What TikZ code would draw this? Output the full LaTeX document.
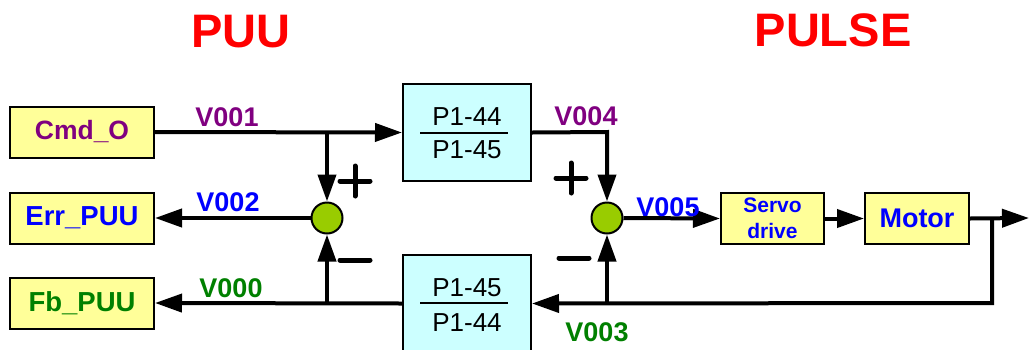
\documentclass[tikz,border=0pt]{standalone}
\usepackage{fontspec}
\setmainfont{Liberation Sans}
\usetikzlibrary{arrows.meta}
\definecolor{boxy}{HTML}{FFFF99}
\definecolor{boxc}{HTML}{CCFFFF}
\definecolor{sumg}{HTML}{99CC00}
\definecolor{vpur}{HTML}{800080}
\definecolor{vblue}{HTML}{0000FF}
\definecolor{vgreen}{HTML}{008000}
\begin{document}
\begin{tikzpicture}[x=1pt,y=-1pt,
  ybox/.style={draw=black, line width=2pt, fill=boxy, minimum width=144pt, minimum height=51pt, inner sep=0pt, font=\fontsize{27.5}{29}\selectfont\bfseries},
  cbox/.style={draw=black, line width=2pt, fill=boxc, minimum width=128pt, minimum height=97pt, inner sep=0pt},
  ptext/.style={inner sep=0pt, font=\fontsize{26}{28}\selectfont},
  sumnode/.style={circle, draw=black, line width=2pt, fill=sumg, minimum size=31pt, inner sep=0pt},
  conn/.style={line width=4pt},
  arr/.style={conn, -{Triangle[length=27pt,width=18pt]}},
  lab/.style={inner sep=0pt, font=\fontsize{27}{29}\selectfont\bfseries},
  ttl/.style={inner sep=0pt, font=\fontsize{47}{50}\selectfont\bfseries, text=red},
  sign/.style={line width=5pt, line cap=round}
]
\useasboundingbox (0,0) rectangle (1029,349);

% titles
\node[ttl] (tpuu) at (241,32) {PUU};
\node[ttl] (tpulse) at (833,30) {PULSE};

% left boxes
\node[ybox, text=vpur, font=\fontsize{26.5}{28}\selectfont\bfseries] (cmd) at (82,132) {Cmd\_O};
\node[ybox, text=vblue] (err) at (82,218) {Err\_PUU};
\node[ybox, text=vgreen] (fb) at (82,303) {Fb\_PUU};

% gain boxes
\node[cbox] (p1) at (467,132.5) {};
\node[ptext] (p1a) at (467,117) {P1-44};
\node[ptext] (p1b) at (467,150) {P1-45};
\draw[line width=2pt] (420,132.5) -- (508,132.5);

\node[cbox] (p2) at (467,303.5) {};
\node[ptext] (p2a) at (467,288) {P1-45};
\node[ptext] (p2b) at (467,323) {P1-44};
\draw[line width=2pt] (420,303) -- (508,303);

% summing junctions
\node[sumnode] (s1) at (327,218) {};
\node[sumnode] (s2) at (607,218) {};

% right boxes
\node[ybox, minimum width=103pt, text=vblue, align=center, font=\fontsize{21}{26}\selectfont\bfseries] (servo) at (772.5,218.5) {Servo\\drive};
\node[ybox, minimum width=104pt, text=vblue, font=\fontsize{27}{29}\selectfont\bfseries] (motor) at (917,218.5) {Motor};

% coordinates
\coordinate (j1) at (327,132);
\coordinate (j2) at (327,303);
\coordinate (j3) at (607,132);
\coordinate (j6) at (607,303);
\coordinate (j4) at (992,218);
\coordinate (j5) at (992,303);
\coordinate (out) at (1029,218);

% connectors
\draw[arr] (cmd.east) -- (p1.west);
\draw[arr] (j1) -- (s1.north);
\draw[arr] (s1.west) -- (err.east);
\draw[arr] (p2.west) -- (fb.east);
\draw[arr] (j2) -- (s1.south);
\draw[arr] (p1.east) -- (j3) -- (s2.north);
\draw[arr] (s2.east) -- (servo.west);
\draw[arr] (servo.east) -- (motor.west);
\draw[arr] (motor.east) -- (out);
\draw[arr] (j4) -- (j5) -- (p2.east);
\draw[arr] (j6) -- (s2.south);

% signal labels
\node[lab, text=vpur] (v001) at (227,117) {V001};
\node[lab, text=vblue] (v002) at (228,202) {V002};
\node[lab, text=vgreen] (v000) at (231,288) {V000};
\node[lab, text=vpur] (v004) at (586,116) {V004};
\node[lab, text=vblue] (v005) at (668,207) {V005};
\node[lab, text=vgreen] (v003) at (597,332) {V003};

% signs
\draw[sign] (340,181) -- (370,181) (355,166) -- (355,196);
\draw[sign] (340,260) -- (370,260);
\draw[sign] (556,178) -- (586,178) (571,163) -- (571,193);
\draw[sign] (559,258) -- (589,258);
\end{tikzpicture}
\end{document}
